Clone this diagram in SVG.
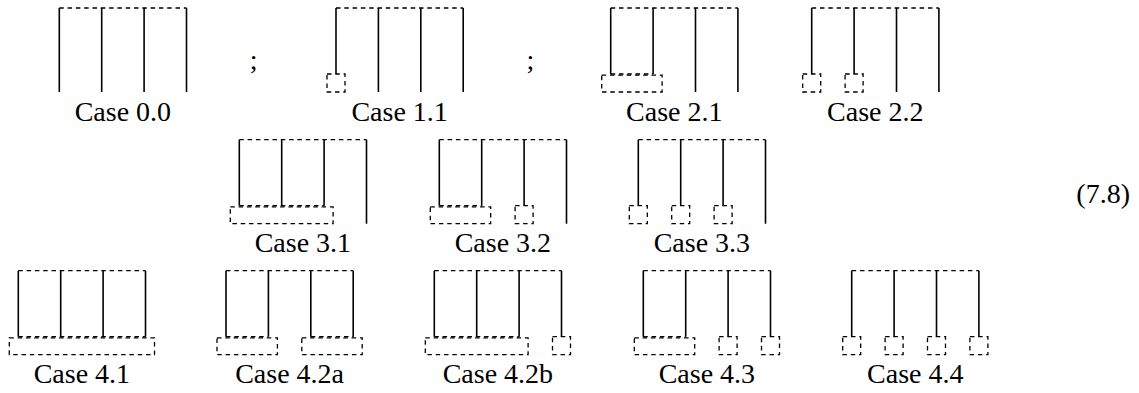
<svg xmlns="http://www.w3.org/2000/svg" width="1139" height="393" viewBox="0 0 1139 393">
  <style>
    .solid { stroke: #000; stroke-width: 1.6; fill: none; }
    .dash { stroke: #000; stroke-width: 1.3; fill: none; stroke-dasharray: 4.5 3.8; }
    .lbl { font-family: "Liberation Serif", "DejaVu Serif", "Times New Roman", Times, serif; font-size: 28px; fill: #000; text-anchor: middle; }
    .sep { font-family: "Liberation Serif", "DejaVu Serif", "Times New Roman", Times, serif; font-size: 28px; fill: #000; }
  </style>
  <defs>
    <!-- shared pieces: top dashed rail, full-length and shortened strands -->
    <path id="rail" class="dash" d="M0 0 H127.2"/>
    <path id="full0" class="solid" d="M0 0 V84"/>
    <path id="full1" class="solid" d="M42.4 0 V84"/>
    <path id="full2" class="solid" d="M84.8 0 V84"/>
    <path id="full3" class="solid" d="M127.2 0 V84"/>
    <path id="short0" class="solid" d="M0 0 V66"/>
    <path id="short1" class="solid" d="M42.4 0 V66"/>
    <path id="short2" class="solid" d="M84.8 0 V66"/>
    <path id="short3" class="solid" d="M127.2 0 V66"/>
  </defs>

  <!-- Row 1 -->
  <g id="case-0-0" transform="translate(59.3,8)">
    <use href="#rail"/>
    <use href="#full0"/><use href="#full1"/><use href="#full2"/><use href="#full3"/>
    <text class="lbl" x="63.6" y="112.5" font-family="Liberation Serif, serif">Case 0.0</text>
  </g>
  <text class="sep" x="249.7" y="68.5" font-family="Liberation Serif, serif">;</text>
  <g id="case-1-1" transform="translate(336,8)">
    <use href="#rail"/>
    <use href="#short0"/><use href="#full1"/><use href="#full2"/><use href="#full3"/>
    <rect class="dash" x="-9" y="66" width="18" height="18"/>
    <text class="lbl" x="63.6" y="112.5">Case 1.1</text>
  </g>
  <text class="sep" x="526.5" y="68.5">;</text>
  <g id="case-2-1" transform="translate(610.7,8)">
    <use href="#rail"/>
    <use href="#short0"/><use href="#short1"/><use href="#full2"/><use href="#full3"/>
    <path class="dash" d="M0 66 H42.4"/>
    <rect class="dash" x="-9" y="67.2" width="60.4" height="16.8"/>
    <text class="lbl" x="63.6" y="112.5">Case 2.1</text>
  </g>
  <g id="case-2-2" transform="translate(811.7,8)">
    <use href="#rail"/>
    <use href="#short0"/><use href="#short1"/><use href="#full2"/><use href="#full3"/>
    <rect class="dash" x="-9" y="66" width="18" height="18"/>
    <rect class="dash" x="33.4" y="66" width="18" height="18"/>
    <text class="lbl" x="63.6" y="112.5">Case 2.2</text>
  </g>

  <!-- Row 2 -->
  <g id="case-3-1" transform="translate(239.3,139.7)">
    <use href="#rail"/>
    <use href="#short0"/><use href="#short1"/><use href="#short2"/><use href="#full3"/>
    <path class="dash" d="M0 66 H84.8"/>
    <rect class="dash" x="-9" y="67.2" width="102.8" height="16.8"/>
    <text class="lbl" x="63.6" y="112.5">Case 3.1</text>
  </g>
  <g id="case-3-2" transform="translate(439.3,139.7)">
    <use href="#rail"/>
    <use href="#short0"/><use href="#short1"/><use href="#short2"/><use href="#full3"/>
    <path class="dash" d="M0 66 H42.4"/>
    <rect class="dash" x="-9" y="67.2" width="60.4" height="16.8"/>
    <rect class="dash" x="75.8" y="66" width="18" height="18"/>
    <text class="lbl" x="63.6" y="112.5">Case 3.2</text>
  </g>
  <g id="case-3-3" transform="translate(638.3,139.7)">
    <use href="#rail"/>
    <use href="#short0"/><use href="#short1"/><use href="#short2"/><use href="#full3"/>
    <rect class="dash" x="-9" y="66" width="18" height="18"/>
    <rect class="dash" x="33.4" y="66" width="18" height="18"/>
    <rect class="dash" x="75.8" y="66" width="18" height="18"/>
    <text class="lbl" x="63.6" y="112.5">Case 3.3</text>
  </g>

  <!-- equation number -->
  <text class="sep" x="1130" y="203" text-anchor="end">(7.8)</text>

  <!-- Row 3 -->
  <g id="case-4-1" transform="translate(18.3,270.7)">
    <use href="#rail"/>
    <use href="#short0"/><use href="#short1"/><use href="#short2"/><use href="#short3"/>
    <path class="dash" d="M0 66 H127.2"/>
    <rect class="dash" x="-9" y="67.2" width="145.2" height="16.8"/>
    <text class="lbl" x="63.6" y="112.5">Case 4.1</text>
  </g>
  <g id="case-4-2a" transform="translate(226,270.7)">
    <use href="#rail"/>
    <use href="#short0"/><use href="#short1"/><use href="#short2"/><use href="#short3"/>
    <path class="dash" d="M0 66 H42.4 M84.8 66 H127.2"/>
    <rect class="dash" x="-9" y="67.2" width="60.4" height="16.8"/>
    <rect class="dash" x="75.8" y="67.2" width="60.4" height="16.8"/>
    <text class="lbl" x="63.6" y="112.5">Case 4.2a</text>
  </g>
  <g id="case-4-2b" transform="translate(434.3,270.7)">
    <use href="#rail"/>
    <use href="#short0"/><use href="#short1"/><use href="#short2"/><use href="#short3"/>
    <path class="dash" d="M0 66 H84.8"/>
    <rect class="dash" x="-9" y="67.2" width="102.8" height="16.8"/>
    <rect class="dash" x="118.2" y="66" width="18" height="18"/>
    <text class="lbl" x="63.6" y="112.5">Case 4.2b</text>
  </g>
  <g id="case-4-3" transform="translate(643.3,270.7)">
    <use href="#rail"/>
    <use href="#short0"/><use href="#short1"/><use href="#short2"/><use href="#short3"/>
    <path class="dash" d="M0 66 H42.4"/>
    <rect class="dash" x="-9" y="67.2" width="60.4" height="16.8"/>
    <rect class="dash" x="75.8" y="66" width="18" height="18"/>
    <rect class="dash" x="118.2" y="66" width="18" height="18"/>
    <text class="lbl" x="63.6" y="112.5">Case 4.3</text>
  </g>
  <g id="case-4-4" transform="translate(851.7,270.7)">
    <use href="#rail"/>
    <use href="#short0"/><use href="#short1"/><use href="#short2"/><use href="#short3"/>
    <rect class="dash" x="-9" y="66" width="18" height="18"/>
    <rect class="dash" x="33.4" y="66" width="18" height="18"/>
    <rect class="dash" x="75.8" y="66" width="18" height="18"/>
    <rect class="dash" x="118.2" y="66" width="18" height="18"/>
    <text class="lbl" x="63.6" y="112.5">Case 4.4</text>
  </g>

  <!-- connectors: none besides the strands drawn in each case -->
  <g id="connectors"/>
</svg>
